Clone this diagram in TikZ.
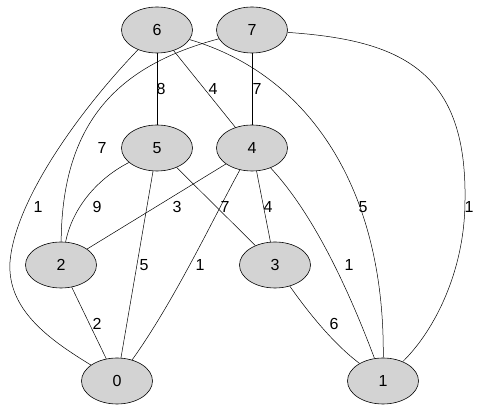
\documentclass[tikz,border=0pt]{standalone}
\usepackage{fontspec}
\setmainfont{Liberation Sans}
\usetikzlibrary{shapes.geometric}
\definecolor{NodeFill}{HTML}{D3D3D3}
\tikzset{
  vertex/.style={ellipse,draw=black,line width=0.6pt,fill=NodeFill,minimum width=71pt,minimum height=46pt,inner sep=0pt,font=\fontsize{16}{18}\selectfont},
  edge/.style={draw=black,line width=0.5pt}
}
\newcommand{\EdgeNum}[4]{%
  \node[inner sep=0pt,font=\fontsize{16}{18}\selectfont] (#1) at (#2,#3) {#4};%
}

\begin{document}
\begin{tikzpicture}[x=1pt,y=-1pt]
\useasboundingbox (0,0) rectangle (499,411);
\foreach \n/\x/\y in {6/157/30,7/252/30,5/157/148,4/252/148,2/61/265,3/275/265,0/117/381,1/383/381} {
  \node[vertex] (n\n) at (\x,\y) {\n};
}
\foreach \a/\b in {6/5,6/4,7/4,5/0,5/3,4/2,4/3,2/0} {
  \draw[edge] (n\a) -- (n\b);
}
\draw[edge] (n6) .. controls (80,110) and (15,200) .. (10,262) .. controls (7,310) and (50,340) .. (n0);
\draw[edge] (n7) .. controls (120,65) and (62,120) .. (n2);
\draw[edge] (n6) .. controls (310,75) and (385,190) .. (n1);
\draw[edge] (n7) .. controls (400,40) and (467,70) .. (465,200) .. controls (465,270) and (435,330) .. (n1);
\draw[edge] (n5) .. controls (95,180) and (72,210) .. (n2);
\draw[edge] (n4) .. controls (215,215) and (175,300) .. (n0);
\draw[edge] (n4) .. controls (310,210) and (345,280) .. (n1);
\draw[edge] (n3) .. controls (310,315) and (335,345) .. (n1);
\EdgeNum{w65}{161}{89}{8}
\EdgeNum{w64}{213}{89}{4}
\EdgeNum{w74}{257}{89}{7}
\EdgeNum{w72}{102}{148}{7}
\EdgeNum{w60}{38}{207}{1}
\EdgeNum{w52}{97}{207}{9}
\EdgeNum{w42}{177}{207}{3}
\EdgeNum{w53}{225}{207}{7}
\EdgeNum{w43}{268}{207}{4}
\EdgeNum{w61}{363}{207}{5}
\EdgeNum{w71}{469}{207}{1}
\EdgeNum{w50}{144}{265}{5}
\EdgeNum{w40}{200}{265}{1}
\EdgeNum{w41}{349}{265}{1}
\EdgeNum{w20}{97}{324}{2}
\EdgeNum{w31}{334}{324}{6}
\end{tikzpicture}
\end{document}
